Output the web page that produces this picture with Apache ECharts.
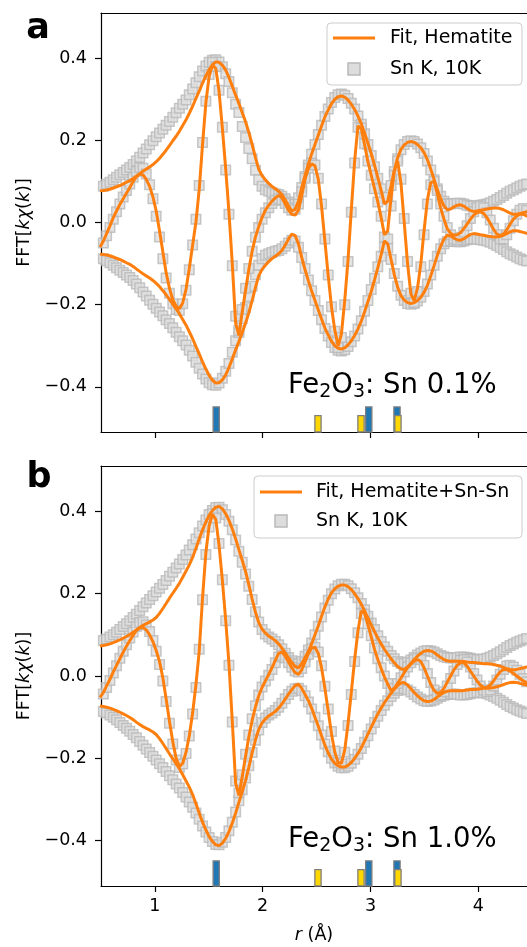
<!DOCTYPE html>
<html>
<head>
<meta charset="utf-8">
<title>FFT[kχ(k)] fits</title>
<script src="https://cdn.jsdelivr.net/npm/echarts@6/dist/echarts.min.js"></script>
<style>
  html, body { margin: 0; padding: 0; background: #fff; }
  #chart { width: 527px; height: 947px; }
</style>
</head>
<body>
<div id="chart"></div>
<script>
// r grid (Å), shared by every trace
const rGrid = [
  0.491,0.522,0.552,0.583,0.614,0.644,0.675,0.706,0.736,0.767,
  0.798,0.828,0.859,0.890,0.920,0.951,0.982,1.012,1.043,1.074,
  1.104,1.135,1.166,1.197,1.227,1.258,1.289,1.319,1.350,1.381,
  1.411,1.442,1.473,1.503,1.534,1.565,1.595,1.626,1.657,1.687,
  1.718,1.749,1.779,1.810,1.841,1.871,1.902,1.933,1.963,1.994,
  2.025,2.056,2.086,2.117,2.148,2.178,2.209,2.240,2.270,2.301,
  2.332,2.362,2.393,2.424,2.454,2.485,2.516,2.546,2.577,2.608,
  2.638,2.669,2.700,2.730,2.761,2.792,2.822,2.853,2.884,2.915,
  2.945,2.976,3.007,3.037,3.068,3.099,3.129,3.160,3.191,3.221,
  3.252,3.283,3.313,3.344,3.375,3.405,3.436,3.467,3.497,3.528,
  3.559,3.590,3.620,3.651,3.682,3.712,3.743,3.774,3.804,3.835,
  3.866,3.896,3.927,3.958,3.988,4.019,4.050,4.080,4.111,4.142,
  4.172,4.203,4.234,4.264,4.295,4.326,4.357,4.387,4.418,4.449,
  4.479,4.510
];

// panel a (Sn 0.1%) : |chi(R)| and Re[chi(R)], data and fit
const magDataA = [
  0.085,0.088,0.093,0.098,0.104,0.110,0.116,0.122,0.128,0.134,
  0.141,0.150,0.159,0.169,0.179,0.189,0.199,0.209,0.218,0.227,
  0.237,0.246,0.256,0.267,0.278,0.288,0.298,0.311,0.325,0.340,
  0.355,0.369,0.381,0.390,0.395,0.396,0.391,0.379,0.362,0.343,
  0.316,0.288,0.268,0.234,0.207,0.180,0.155,0.127,0.104,0.088,
  0.080,0.076,0.073,0.070,0.068,0.064,0.058,0.050,0.043,0.045,
  0.060,0.085,0.112,0.140,0.166,0.190,0.214,0.237,0.258,0.276,
  0.292,0.304,0.311,0.313,0.310,0.302,0.290,0.276,0.259,0.239,
  0.216,0.190,0.163,0.136,0.108,0.082,0.060,0.062,0.090,0.124,
  0.155,0.177,0.190,0.197,0.199,0.197,0.191,0.182,0.168,0.150,
  0.128,0.104,0.082,0.064,0.052,0.046,0.045,0.046,0.047,0.047,
  0.045,0.042,0.040,0.040,0.041,0.042,0.043,0.045,0.048,0.052,
  0.056,0.061,0.066,0.071,0.076,0.080,0.084,0.088,0.091,0.094,
  0.096,0.098
];
const reDataA = [
  -0.065,-0.050,-0.032,-0.012,0.008,0.026,0.045,0.062,0.078,0.094,
  0.110,0.124,0.133,0.132,0.118,0.092,0.058,0.015,-0.035,-0.088,
  -0.135,-0.172,-0.198,-0.212,-0.214,-0.198,-0.165,-0.115,-0.055,0.008,
  0.090,0.195,0.295,0.360,0.390,0.380,0.322,0.232,0.128,0.020,
  -0.105,-0.228,-0.262,-0.212,-0.160,-0.112,-0.070,-0.036,-0.012,0.008,
  0.024,0.036,0.046,0.054,0.058,0.055,0.046,0.036,0.030,0.032,
  0.045,0.075,0.108,0.132,0.145,0.140,0.108,0.045,-0.040,-0.128,
  -0.205,-0.265,-0.305,-0.280,-0.200,-0.095,0.025,0.145,0.232,0.230,
  0.192,0.150,0.115,0.082,0.050,0.015,-0.035,-0.040,0.040,0.115,
  0.150,0.105,0.010,-0.095,-0.172,-0.195,-0.168,-0.108,-0.030,0.045,
  0.092,0.100,0.078,0.045,0.015,-0.012,-0.030,-0.040,-0.042,-0.036,
  -0.024,-0.008,0.010,0.026,0.036,0.040,0.036,0.024,0.006,-0.014,
  -0.030,-0.040,-0.040,-0.030,-0.014,0.004,0.020,0.030,0.034,0.030,
  0.022,0.010
];
const magFitA = [
  0.077,0.078,0.079,0.081,0.084,0.087,0.090,0.094,0.098,0.102,
  0.107,0.113,0.119,0.125,0.130,0.135,0.141,0.148,0.156,0.166,
  0.176,0.187,0.199,0.210,0.222,0.236,0.250,0.266,0.283,0.302,
  0.320,0.339,0.357,0.372,0.384,0.391,0.390,0.383,0.371,0.353,
  0.332,0.310,0.290,0.268,0.245,0.220,0.190,0.158,0.130,0.114,
  0.104,0.095,0.088,0.082,0.076,0.068,0.055,0.040,0.028,0.032,
  0.052,0.085,0.115,0.142,0.167,0.190,0.213,0.235,0.257,0.274,
  0.289,0.300,0.306,0.308,0.305,0.298,0.288,0.275,0.259,0.240,
  0.218,0.193,0.168,0.140,0.110,0.078,0.045,0.052,0.090,0.127,
  0.158,0.178,0.189,0.195,0.197,0.195,0.190,0.182,0.170,0.153,
  0.130,0.105,0.080,0.058,0.040,0.031,0.033,0.038,0.042,0.043,
  0.040,0.034,0.029,0.027,0.028,0.030,0.031,0.033,0.034,0.035,
  0.035,0.034,0.031,0.027,0.023,0.020,0.020,0.022,0.024,0.026,
  0.028,0.030
];
const reFitA = [
  -0.060,-0.045,-0.027,-0.008,0.012,0.028,0.044,0.058,0.071,0.085,
  0.100,0.111,0.118,0.116,0.105,0.088,0.062,0.028,-0.020,-0.072,
  -0.122,-0.160,-0.188,-0.204,-0.210,-0.196,-0.162,-0.112,-0.055,0.002,
  0.080,0.190,0.292,0.356,0.383,0.375,0.320,0.230,0.130,0.025,
  -0.100,-0.245,-0.275,-0.218,-0.165,-0.115,-0.070,-0.035,-0.010,0.012,
  0.030,0.042,0.052,0.060,0.066,0.060,0.045,0.030,0.020,0.018,
  0.030,0.065,0.105,0.132,0.143,0.138,0.105,0.040,-0.045,-0.130,
  -0.205,-0.262,-0.300,-0.272,-0.190,-0.090,0.030,0.150,0.235,0.228,
  0.190,0.148,0.115,0.083,0.050,0.012,-0.030,-0.020,0.060,0.125,
  0.150,0.095,0.000,-0.100,-0.175,-0.190,-0.160,-0.100,-0.020,0.055,
  0.097,0.100,0.070,0.035,0.008,-0.015,-0.026,-0.031,-0.030,-0.025,
  -0.015,-0.004,0.008,0.018,0.024,0.026,0.022,0.012,-0.002,-0.017,
  -0.028,-0.032,-0.028,-0.018,-0.004,0.008,0.016,0.020,0.020,0.016,
  0.010,0.002
];

// panel b (Sn 1.0%)
const magDataB = [
  0.082,0.086,0.090,0.095,0.100,0.106,0.113,0.120,0.127,0.134,
  0.142,0.150,0.159,0.168,0.177,0.186,0.195,0.204,0.213,0.222,
  0.232,0.242,0.252,0.262,0.272,0.283,0.294,0.306,0.319,0.333,
  0.348,0.364,0.379,0.392,0.402,0.409,0.410,0.404,0.392,0.376,
  0.355,0.330,0.303,0.276,0.248,0.218,0.186,0.156,0.131,0.113,
  0.102,0.095,0.090,0.084,0.076,0.066,0.055,0.045,0.037,0.031,
  0.030,0.036,0.048,0.063,0.080,0.100,0.121,0.143,0.165,0.184,
  0.200,0.211,0.219,0.223,0.223,0.219,0.212,0.202,0.190,0.176,
  0.161,0.145,0.129,0.113,0.098,0.084,0.071,0.060,0.050,0.042,
  0.035,0.031,0.031,0.034,0.039,0.045,0.051,0.056,0.060,0.062,
  0.061,0.058,0.054,0.050,0.047,0.045,0.044,0.044,0.045,0.046,
  0.046,0.045,0.043,0.041,0.040,0.040,0.041,0.043,0.046,0.050,
  0.054,0.059,0.064,0.069,0.074,0.078,0.082,0.085,0.088,0.091,
  0.093,0.095
];
const reDataB = [
  -0.058,-0.044,-0.028,-0.011,0.007,0.025,0.043,0.060,0.076,0.092,
  0.107,0.120,0.130,0.132,0.124,0.108,0.086,0.060,0.028,-0.012,
  -0.062,-0.115,-0.165,-0.204,-0.222,-0.214,-0.188,-0.146,-0.092,-0.028,
  0.065,0.185,0.295,0.362,0.394,0.384,0.322,0.234,0.134,0.026,
  -0.112,-0.255,-0.284,-0.240,-0.190,-0.143,-0.104,-0.072,-0.046,-0.027,
  -0.012,0.002,0.016,0.032,0.046,0.050,0.044,0.032,0.021,0.012,
  0.010,0.018,0.034,0.052,0.066,0.070,0.058,0.025,-0.025,-0.080,
  -0.135,-0.182,-0.210,-0.214,-0.185,-0.120,-0.045,0.035,0.105,0.152,
  0.150,0.126,0.098,0.068,0.042,0.020,0.000,-0.018,-0.032,-0.030,
  -0.018,-0.004,0.010,0.022,0.032,0.040,0.044,0.040,0.026,0.006,
  -0.016,-0.034,-0.044,-0.046,-0.038,-0.024,-0.006,0.012,0.028,0.038,
  0.040,0.034,0.022,0.006,-0.010,-0.024,-0.034,-0.038,-0.034,-0.024,
  -0.010,0.004,0.016,0.024,0.026,0.022,0.014,0.004,-0.006,-0.014,
  -0.020,-0.022
];
const magFitB = [
  0.073,0.074,0.076,0.078,0.081,0.084,0.088,0.092,0.096,0.101,
  0.106,0.112,0.118,0.123,0.127,0.131,0.136,0.142,0.152,0.164,
  0.176,0.189,0.201,0.213,0.225,0.240,0.255,0.270,0.288,0.310,
  0.333,0.355,0.374,0.390,0.402,0.410,0.412,0.406,0.394,0.378,
  0.357,0.333,0.307,0.281,0.254,0.222,0.187,0.155,0.130,0.114,
  0.104,0.097,0.092,0.086,0.078,0.068,0.056,0.044,0.033,0.023,
  0.020,0.030,0.045,0.060,0.078,0.100,0.122,0.145,0.168,0.187,
  0.202,0.212,0.218,0.221,0.221,0.217,0.210,0.200,0.188,0.174,
  0.158,0.141,0.124,0.108,0.092,0.078,0.065,0.053,0.042,0.032,
  0.023,0.017,0.016,0.022,0.031,0.040,0.048,0.055,0.060,0.062,
  0.061,0.057,0.051,0.045,0.040,0.037,0.036,0.036,0.036,0.036,
  0.035,0.034,0.033,0.033,0.032,0.031,0.030,0.030,0.029,0.028,
  0.026,0.024,0.021,0.018,0.016,0.015,0.016,0.018,0.020,0.022,
  0.024,0.026
];
const reFitB = [
  -0.052,-0.040,-0.024,-0.008,0.010,0.026,0.042,0.058,0.072,0.086,
  0.099,0.110,0.117,0.118,0.112,0.100,0.083,0.062,0.035,-0.005,
  -0.055,-0.110,-0.160,-0.200,-0.220,-0.212,-0.185,-0.145,-0.090,-0.020,
  0.060,0.190,0.300,0.365,0.393,0.380,0.318,0.232,0.135,0.030,
  -0.110,-0.260,-0.290,-0.245,-0.195,-0.148,-0.108,-0.075,-0.048,-0.028,
  -0.012,0.004,0.020,0.038,0.055,0.058,0.048,0.034,0.020,0.008,
  0.004,0.015,0.035,0.055,0.068,0.070,0.055,0.020,-0.030,-0.085,
  -0.140,-0.185,-0.210,-0.212,-0.180,-0.115,-0.040,0.040,0.110,0.158,
  0.152,0.125,0.095,0.065,0.040,0.018,-0.002,-0.020,-0.035,-0.030,
  -0.018,-0.005,0.008,0.020,0.029,0.036,0.040,0.035,0.020,0.000,
  -0.020,-0.035,-0.042,-0.040,-0.030,-0.015,0.000,0.015,0.026,0.033,
  0.032,0.024,0.012,0.000,-0.012,-0.022,-0.028,-0.028,-0.022,-0.012,
  0.000,0.010,0.016,0.016,0.012,0.006,0.000,-0.006,-0.012,-0.016,
  -0.018,-0.018
];

// path markers along the bottom of each panel: [r, top]
const blueBars = [[1.569, -0.449], [2.984, -0.449], [3.246, -0.449]];
const yellowBars = [[2.513, -0.470], [2.912, -0.470], [3.255, -0.470]];

const xTicks = [1, 2, 3, 4];
const yTicks = [-0.4, -0.2, 0, 0.2, 0.4];
const panelLetters = ['a', 'b'];
const fitNames = ['Fit, Hematite', 'Fit, Hematite+Sn-Sn'];
const dataName = 'Sn K, 10K';
const sampleLabels = ['0.1%', '1.0%'];

const FONT = 'DejaVu Sans';
const ORANGE = '#ff7f0e';
const Y_MIN = -0.51, Y_MAX = 0.51;
const X_MIN = 0.5, X_MAX = 4.452;   // the right spine falls just outside the picture
const BAR_W = 0.058;
const grids = [
  { left: 101, top: 13, right: 0, height: 419 },
  { left: 101, top: 466, right: 0, height: 420 }
];

function pairs(vals, sign) {
  return rGrid.map((r, i) => [r, sign * vals[i]]);
}

function barSeries(k, bars, color) {
  return {
    type: 'custom', xAxisIndex: k, yAxisIndex: k, data: bars, z: 5, silent: true,
    renderItem: function (params, api) {
      const r = api.value(0), top = api.value(1);
      const a = api.coord([r - BAR_W / 2, top]);
      const b = api.coord([r + BAR_W / 2, Y_MIN]);
      return {
        type: 'rect',
        shape: { x: a[0], y: a[1], width: b[0] - a[0], height: b[1] - a[1] },
        style: { fill: color, stroke: '#7f7f7f', lineWidth: 1.3 }
      };
    }
  };
}

function panelSeries(k, magData, reData, magFit, reFit) {
  const out = [];
  [pairs(magData, 1), pairs(magData, -1), pairs(reData, 1)].forEach(function (d) {
    out.push({
      type: 'scatter', xAxisIndex: k, yAxisIndex: k, data: d, silent: true, z: 2,
      symbol: 'rect', symbolSize: 9.5,
      itemStyle: { color: '#dddddd', borderColor: '#b9b9b9', borderWidth: 1.5 }
    });
  });
  [pairs(magFit, 1), pairs(magFit, -1), pairs(reFit, 1)].forEach(function (d) {
    out.push({
      type: 'line', xAxisIndex: k, yAxisIndex: k, data: d, silent: true, z: 4,
      showSymbol: false, symbol: 'none',
      lineStyle: { color: ORANGE, width: 3 }
    });
  });
  out.push(barSeries(k, blueBars, '#1f77b4'));
  out.push(barSeries(k, yellowBars, '#ffd700'));
  return out;
}

const richName = {
  t: { fontSize: 17.5, fontFamily: FONT, color: '#000' },
  i: { fontSize: 17.5, fontFamily: FONT, fontStyle: 'italic', color: '#000' }
};

const xAxes = [0, 1].map(function (k) {
  return {
    type: 'value', gridIndex: k, min: X_MIN, max: X_MAX, position: 'bottom',
    axisLine: { onZero: false, lineStyle: { color: '#000', width: 1.2 } },
    axisTick: { customValues: xTicks, length: 6, lineStyle: { color: '#000', width: 1.2 } },
    axisLabel: { show: k === 1, customValues: xTicks, margin: 11, color: '#000', fontSize: 17.5, fontFamily: FONT },
    splitLine: { show: false },
    name: k === 1 ? '{i|r}{t| (Å)}' : '',
    nameLocation: 'middle', nameGap: 40,
    nameTextStyle: { rich: richName }
  };
}).concat([0, 1].map(function (k) {
  // top spine of each panel
  return {
    type: 'value', gridIndex: k, min: X_MIN, max: X_MAX, position: 'top',
    axisLine: { onZero: false, lineStyle: { color: '#000', width: 1.2 } },
    axisTick: { show: false }, axisLabel: { show: false }, splitLine: { show: false }
  };
}));

const yAxes = [0, 1].map(function (k) {
  return {
    type: 'value', gridIndex: k, min: Y_MIN, max: Y_MAX,
    axisLine: { show: true, onZero: false, lineStyle: { color: '#000', width: 1.2 } },
    axisTick: { show: true, customValues: yTicks, length: 6, lineStyle: { color: '#000', width: 1.2 } },
    axisLabel: {
      customValues: yTicks, margin: 14, color: '#000', fontSize: 17.5, fontFamily: FONT,
      formatter: function (v) { return (v < 0 ? '\u2212' : '') + Math.abs(v).toFixed(1); }
    },
    splitLine: { show: false },
    name: '{t|FFT[}{i|kχ}{t|(}{i|k}{t|)]}',
    nameLocation: 'middle', nameGap: 68, nameRotate: 90,
    nameTextStyle: { rich: richName }
  };
});

function legendGraphics(k, box, lineX, textX, rowY, markerX) {
  return [
    { type: 'rect', shape: { x: box[0], y: box[1], width: box[2], height: box[3], r: 4 },
      style: { fill: 'rgba(255,255,255,0.8)', stroke: '#cccccc', lineWidth: 1 }, z: 10 },
    { type: 'line', shape: { x1: lineX[0], y1: rowY[0], x2: lineX[1], y2: rowY[0] },
      style: { stroke: ORANGE, lineWidth: 3 }, z: 11 },
    { type: 'text', x: textX, y: rowY[0], z: 11,
      style: { text: fitNames[k], fontSize: 19, fontFamily: FONT, fill: '#000', verticalAlign: 'middle' } },
    { type: 'rect', shape: { x: markerX - 6, y: rowY[1] - 6, width: 12, height: 12 },
      style: { fill: '#dddddd', stroke: '#b9b9b9', lineWidth: 1.5 }, z: 11 },
    { type: 'text', x: textX, y: rowY[1], z: 11,
      style: { text: dataName, fontSize: 19, fontFamily: FONT, fill: '#000', verticalAlign: 'middle' } }
  ];
}

function sampleText(k, x, y) {
  return {
    type: 'text', x: x, y: y, z: 11,
    style: {
      text: '{m|Fe}{s|2}{m|O}{s|3}{m|: Sn ' + sampleLabels[k] + '}',
      verticalAlign: 'middle', align: 'left',
      rich: {
        m: { fontSize: 27.5, fontFamily: FONT, fill: '#000', lineHeight: 31 },
        s: { fontSize: 19, fontFamily: FONT, fill: '#000', lineHeight: 18, verticalAlign: 'bottom' }
      }
    }
  };
}

const graphics = [].concat(
  [
    { type: 'text', x: 38, y: 29, style: { text: panelLetters[0], fontSize: 35, fontWeight: 'bold', fontFamily: FONT, fill: '#000', align: 'center', verticalAlign: 'middle' } },
    { type: 'text', x: 39, y: 478, style: { text: panelLetters[1], fontSize: 35, fontWeight: 'bold', fontFamily: FONT, fill: '#000', align: 'center', verticalAlign: 'middle' } },
    sampleText(0, 288, 386),
    sampleText(1, 288, 840)
  ],
  legendGraphics(0, [327, 23, 195, 62], [333, 375], 390, [38, 69], 354),
  legendGraphics(1, [254, 476, 268, 62], [260, 302], 316, [492, 521], 281)
);

const chart = echarts.init(document.getElementById('chart'), null, { renderer: 'canvas' });
chart.setOption({
  animation: false,
  backgroundColor: '#fff',
  textStyle: { fontFamily: FONT },
  grid: grids.map(function (g) {
    return Object.assign({ show: false, containLabel: false }, g);
  }),
  xAxis: xAxes,
  yAxis: yAxes,
  series: [].concat(
    panelSeries(0, magDataA, reDataA, magFitA, reFitA),
    panelSeries(1, magDataB, reDataB, magFitB, reFitB)
  ),
  graphic: graphics
});
</script>
</body>
</html>
